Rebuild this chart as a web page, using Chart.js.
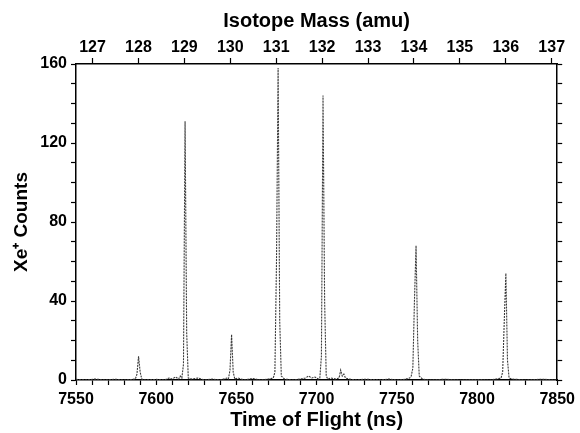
<!DOCTYPE html>
<html><head><meta charset="utf-8">
<script src="https://cdn.jsdelivr.net/npm/chart.js@4"></script>
<style>html,body{margin:0;padding:0;background:#fff}#c{display:block}</style>
</head>
<body>
<canvas id="c" width="580" height="433"></canvas>
<script>
// Time of flight (ns) sample positions and Xe+ counts
const tof = [7550,7556,7562,7568,7574,7580,7585,7587,7588,7589,7590,7591,7593,7600,7605,7608,7610,7612,7614,7615,7616,7617,7618,7619,7620,7622,7626,7630,7635,7640,7644,7645,7646,7647,7648,7649,7651,7655,7660,7665,7670,7673,7674,7675,7676,7677,7678,7680,7685,7690,7693,7695,7697,7699,7701,7702,7703,7704,7705,7706,7707,7709,7712,7714,7715,7716,7717,7718,7720,7725,7730,7740,7745,7750,7755,7758,7759,7760,7761,7762,7763,7764,7766,7770,7780,7790,7800,7808,7812,7815,7816,7817,7818,7819,7820,7822,7830,7840,7850];
const counts = [0.3,0,0.5,0,0.4,0,0.3,0.5,3,12,4,0.5,0,0.3,0,1,0.5,1.5,0.5,2,1,8,131,24,1,0.5,1,0,0.5,0,1,0.5,5,23,4,0.5,1,0,0.8,0,0.5,1,4,60,158,30,2,0.5,0,0.5,1,2,1,1.5,0.5,1,12,144,40,2,0.5,1,0.5,1,5,2,3,1,0.5,0,0.4,0,0.5,0,0.3,1,2,6,40,68,20,2,0.5,0,0.4,0,0.3,0,0.5,1,4,30,54,10,1,0.5,0,0.4,0];

const tofRange = [7550, 7850];
const countRange = [0, 160];
const massRange = [126.64, 137.12];
const massTicks = [127,128,129,130,131,132,133,134,135,136,137];
const tofLabelStep = 50;
const countLabelStep = 40;

const FONT = "'Liberation Sans', Arial, sans-serif";
const tickFont = {family: FONT, size: 16, weight: 'bold'};
const titleFont = {family: FONT, size: 20, weight: 'bold'};

Chart.defaults.color = '#000';

new Chart(document.getElementById('c'), {
  type: 'line',
  data: {
    datasets: [{
      data: tof.map((t, i) => ({x: t, y: counts[i]})),
      xAxisID: 'x', yAxisID: 'y',
      borderColor: '#3a3a3a', borderWidth: 1.1, borderDash: [2, 1],
      pointRadius: 0, tension: 0, fill: false
    }]
  },
  options: {
    responsive: false, devicePixelRatio: 1, animation: false,
    layout: {padding: 0},
    plugins: {legend: {display: false}, tooltip: {enabled: false}},
    scales: {
      x: {
        type: 'linear', position: 'bottom', min: tofRange[0], max: tofRange[1],
        ticks: {stepSize: 10, autoSkip: false, maxRotation: 0, font: tickFont, padding: 5,
          callback: v => (v % tofLabelStep === 0 ? v : '')},
        grid: {drawOnChartArea: false, tickLength: 5, color: '#000', tickWidth: 1.2},
        border: {color: '#000', width: 1.5},
        title: {display: true, text: 'Time of Flight (ns)', font: titleFont, padding: {top: 0, bottom: 1}},
        afterFit: s => { s.height = 53; }
      },
      x2: {
        type: 'linear', position: 'top', min: massRange[0], max: massRange[1],
        afterBuildTicks: s => { s.ticks = massTicks.map(v => ({value: v})); },
        ticks: {autoSkip: false, maxRotation: 0, font: tickFont, padding: 1},
        grid: {drawOnChartArea: false, tickLength: 6, color: '#000', tickWidth: 1.2},
        border: {color: '#000', width: 1.5},
        title: {display: true, text: 'Isotope Mass (amu)', font: titleFont, padding: {top: 9, bottom: 0}},
        afterFit: s => { s.height = 64; }
      },
      y: {
        type: 'linear', position: 'left', min: countRange[0], max: countRange[1],
        ticks: {stepSize: 10, autoSkip: false, font: tickFont, padding: 4,
          callback: v => (v % countLabelStep === 0 ? v : '')},
        grid: {drawOnChartArea: false, tickLength: 5, color: '#000', tickWidth: 1.2},
        border: {color: '#000', width: 1.5},
        title: {display: true, text: 'Xe\u207A Counts', font: {family: FONT, size: 19, weight: 'bold'}, padding: {top: 10, bottom: 0}},
        afterFit: s => { s.width = 76; }
      },
      y2: {
        type: 'linear', position: 'right', min: countRange[0], max: countRange[1],
        ticks: {stepSize: 10, display: false},
        grid: {drawOnChartArea: false, tickLength: 5, color: '#000', tickWidth: 1.2},
        border: {color: '#000', width: 1.5},
        afterFit: s => { s.width = 18; }
      }
    }
  }
});
</script>
</body></html>
